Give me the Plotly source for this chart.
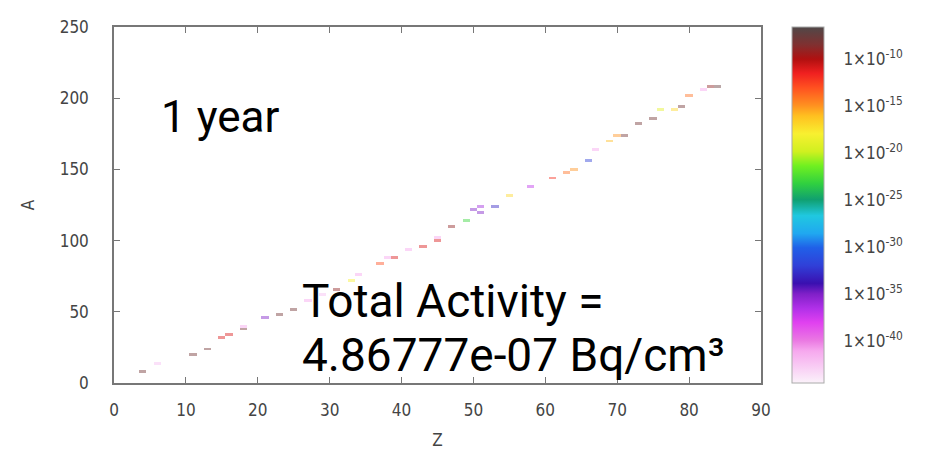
import plotly.graph_objects as go

# ---- data ----
Z_values = [4, 6, 11, 13, 15, 16, 18, 18, 21, 23, 25, 27, 29, 31, 33, 34, 37, 38, 39, 41, 43, 45, 45, 47, 49, 50, 51, 51,
            53, 55, 58, 61, 63, 64, 66, 67, 69, 70, 71, 73, 75, 76, 78, 79, 80, 82, 83, 84]
A_values = [8, 14, 21, 25, 32, 34, 38, 41, 46, 49, 53, 58, 62, 67, 73, 77, 84, 89, 88, 95, 97, 103, 100, 110, 115, 122, 125, 120,
            125, 133, 139, 145, 149, 150, 156, 164, 170, 175, 175, 182, 186, 192, 193, 195, 202, 206, 208, 209]
log_activity = [-8, -42, -8, -8, -11, -11, -8, -41, -35, -8, -8, -41, -42, -9, -18, -41, -13, -41, -11, -41, -11, -41, -11, -9, -23, -35,
                -36, -35, -33, -17, -37, -12, -14, -15, -32, -41, -16, -15, -8, -8, -8, -19, -17, -8, -14, -41, -9, -7.5]

x_grid = list(range(0, 91))
y_grid = list(range(0, 252, 2))

cb_tickvals = [-10, -15, -20, -25, -30, -35, -40]
cb_ticktext = ["1×10<sup>%d</sup>" % v for v in cb_tickvals]

x_ticks = [0, 10, 20, 30, 40, 50, 60, 70, 80, 90]
y_ticks = [0, 50, 100, 150, 200, 250]

# build grid from the data lists
zgrid = [[None for _ in x_grid] for _ in y_grid]
for zv, av, lv in zip(Z_values, A_values, log_activity):
    xi = x_grid.index(int(round(zv)))
    yi = min(range(len(y_grid)), key=lambda k: abs(y_grid[k] - av))
    zgrid[yi][xi] = lv

colorscale = [
    [0.00, "#fbf2fa"], [0.09, "#f6a8ee"], [0.12, "#ea78e2"], [0.17, "#e040f0"],
    [0.21, "#b030e8"], [0.25, "#8020c8"], [0.28, "#3a10b0"], [0.33, "#3040d8"],
    [0.38, "#2060e8"], [0.42, "#20a8f0"], [0.47, "#20c8e0"], [0.515, "#10a070"],
    [0.56, "#30d040"], [0.61, "#70f020"], [0.65, "#d0f020"], [0.70, "#f8f030"],
    [0.75, "#ffc020"], [0.78, "#ff9020"], [0.83, "#ff5020"], [0.87, "#f02020"],
    [0.91, "#b01010"], [0.95, "#803030"], [1.00, "#504848"],
]

TICK_FONT = dict(family="DejaVu Sans Condensed, DejaVu Sans", size=17, color="#444444")

fig = go.Figure()
fig.add_trace(go.Heatmap(
    x=x_grid, y=y_grid, z=zgrid,
    colorscale=colorscale, zmin=-44.5, zmax=-6.6,
    hoverongaps=False, opacity=0.45,
    colorbar=dict(
        x=1.048, xanchor="left", xpad=0, y=0, yanchor="bottom", len=1, lenmode="fraction",
        ypad=0, thickness=32, outlinewidth=1, outlinecolor="#aaaaaa",
        tickvals=cb_tickvals, ticktext=cb_ticktext,
        ticks="outside", ticklen=16, tickcolor="rgba(0,0,0,0)",
        tickfont=TICK_FONT,
    ),
))

axis_common = dict(
    showgrid=False, zeroline=False, mirror="ticks", showline=True,
    linecolor="#777777", linewidth=1.5, ticks="inside", ticklen=6,
    tickcolor="#777777", tickfont=TICK_FONT,
)
fig.update_xaxes(range=[0, 90], tickvals=x_ticks, ticklabelstandoff=11,
                 title=dict(text="Z", font=TICK_FONT, standoff=15),
                 **axis_common)
fig.update_yaxes(range=[0, 250], tickvals=y_ticks, ticklabelstandoff=20,
                 title=dict(text="A", font=TICK_FONT, standoff=21),
                 **axis_common)

fig.add_annotation(x=6.3, y=187, xref="x", yref="y", text="1 year", showarrow=False,
                   xanchor="left", yanchor="middle", font=dict(family="Roboto", size=44, color="black"))
fig.add_annotation(x=25.9, y=57.5, xref="x", yref="y", text="Total Activity =", showarrow=False,
                   xanchor="left", yanchor="middle", font=dict(family="Roboto", size=46, color="black"))
fig.add_annotation(x=25.9, y=19.5, xref="x", yref="y", text="4.86777e-07 Bq/cm³", showarrow=False,
                   xanchor="left", yanchor="middle", font=dict(family="Roboto", size=46, color="black"))

# the page body adds an 8px offset; margins compensate so the plot sits at 114..761 x 17..383
fig.update_layout(
    width=945, height=459,
    margin=dict(l=106, r=192, t=9, b=84),
    paper_bgcolor="white", plot_bgcolor="white",
    showlegend=False,
)

fig.write_html("out.html")
